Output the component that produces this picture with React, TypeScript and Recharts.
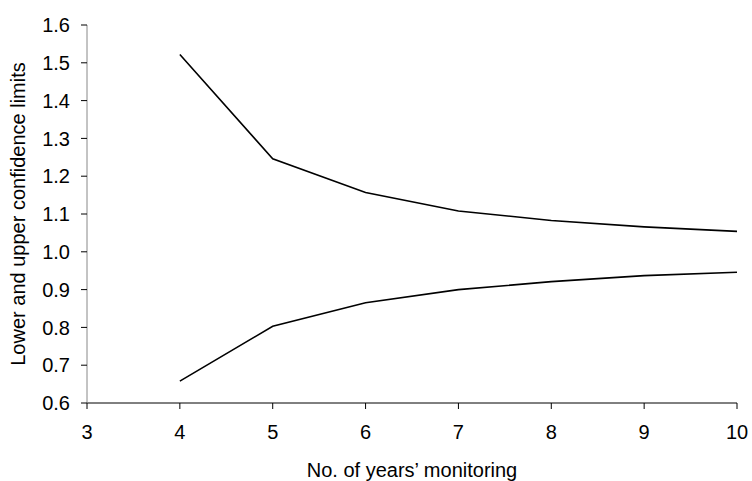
import { LineChart, Line, XAxis, YAxis } from "recharts";

const years = [4, 5, 6, 7, 8, 9, 10];
const upper = [1.522, 1.246, 1.157, 1.108, 1.083, 1.066, 1.054];
const lower = [0.658, 0.803, 0.865, 0.9, 0.921, 0.937, 0.946];
const xTicks = [3, 4, 5, 6, 7, 8, 9, 10];
const yTicks = [0.6, 0.7, 0.8, 0.9, 1.0, 1.1, 1.2, 1.3, 1.4, 1.5, 1.6];

const data = years.map((y, i) => ({ year: y, upper: upper[i], lower: lower[i] }));

const font = "'Liberation Sans', Arial, sans-serif";
const tick = { fontSize: 20, fill: "#000", fontFamily: font };

export default function App() {
  return (
    <div style={{ position: "absolute", left: 0, top: 0, background: "#fff" }}>
      <LineChart
        width={752}
        height={481}
        data={data}
        margin={{ top: 25, right: 15, bottom: 0, left: 0 }}
      >
        <XAxis
          dataKey="year"
          type="number"
          domain={[3, 10]}
          ticks={xTicks}
          tick={tick}
          tickSize={6}
          tickMargin={16}
          axisLine={{ stroke: "#000" }}
          tickLine={{ stroke: "#000" }}
          height={78}
          label={{
            value: "No. of years’ monitoring",
            position: "insideBottom",
            offset: 4,
            style: { fontSize: 20, fill: "#000", fontFamily: font },
          }}
        />
        <YAxis
          type="number"
          domain={[0.6, 1.6]}
          ticks={yTicks}
          tickFormatter={(v: number) => v.toFixed(1)}
          tick={tick}
          tickSize={6}
          tickMargin={11}
          axisLine={{ stroke: "#888" }}
          tickLine={{ stroke: "#000" }}
          width={87}
          label={{
            value: "Lower and upper confidence limits",
            angle: -90,
            position: "insideLeft",
            offset: 18,
            style: { fontSize: 20, fill: "#000", fontFamily: font, textAnchor: "middle" },
          }}
        />
        <Line
          dataKey="upper"
          stroke="#000"
          strokeWidth={1.6}
          dot={false}
          isAnimationActive={false}
        />
        <Line
          dataKey="lower"
          stroke="#000"
          strokeWidth={1.6}
          dot={false}
          isAnimationActive={false}
        />
      </LineChart>
    </div>
  );
}
